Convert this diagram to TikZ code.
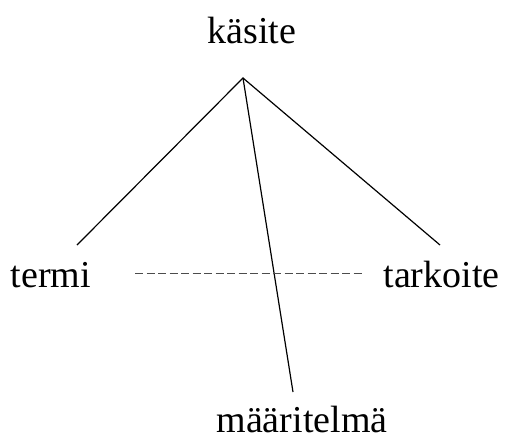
\documentclass[tikz,border=0pt]{standalone}
\usepackage{fontspec}
\setmainfont{Liberation Serif}
\begin{document}
\begin{tikzpicture}[x=1pt,y=-1pt,
  lbl/.style={anchor=base,inner sep=0pt,font=\fontsize{38}{44}\selectfont},
  solidline/.style={line width=1.2pt,black},
  dashline/.style={line width=1pt,gray!60!black,dash pattern=on 8pt off 3.5pt}]
\useasboundingbox (0,0) rectangle (507,437);
\node[lbl] (kasite) at (252,43) {käsite};
\node[lbl] (termi) at (51,287) {termi};
\node[lbl] (tarkoite) at (441.5,287) {tarkoite};
\node[lbl] (maar) at (302,432) {määritelmä};
\coordinate (apex) at (243,78);
\coordinate (tend) at (77,245);
\coordinate (rend) at (440,245);
\coordinate (mend) at (293,392);
\coordinate (dl) at (135,273);
\coordinate (dr) at (362,273);
\draw[solidline] (tend) -- (apex) -- (rend);
\draw[solidline] (apex) -- (mend);
\draw[dashline] (dl) -- (dr);
\end{tikzpicture}
\end{document}
